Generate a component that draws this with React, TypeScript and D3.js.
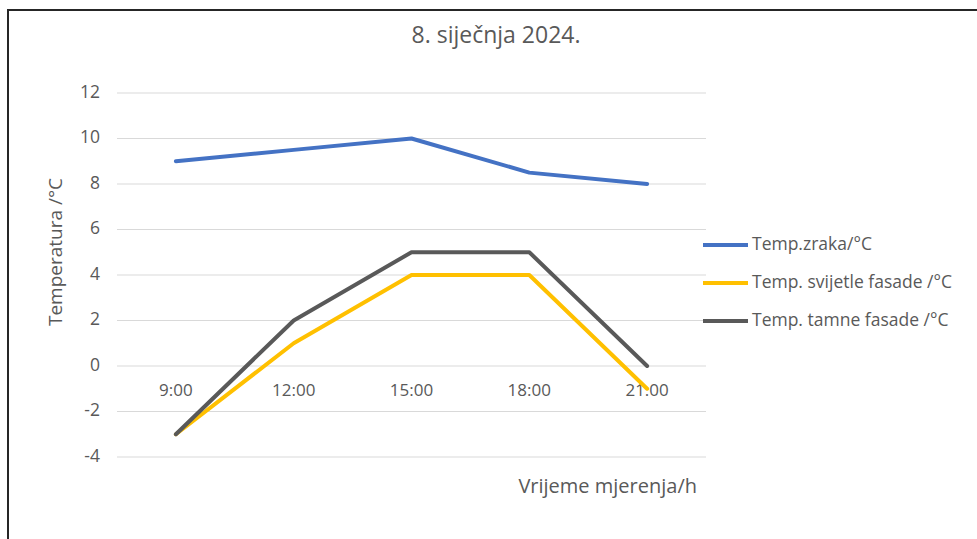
import React from 'react';
import * as d3 from 'd3';

const categories = ['9:00', '12:00', '15:00', '18:00', '21:00'];
const zrak = [9, 9.5, 10, 8.5, 8];
const svijetla = [-3, 1, 4, 4, -1];
const tamna = [-3, 2, 5, 5, 0];
const yTicks = [-4, -2, 0, 2, 4, 6, 8, 10, 12];

const seriesNames = ['Temp.zraka/°C', 'Temp. svijetle fasade /°C', 'Temp. tamne fasade /°C'];
const seriesColors = ['#4472C4', '#FFC000', '#595959'];

const textColor = '#595959';
const font = "'Open Sans', sans-serif";

function App() {
    const width = 977;
    const height = 539;

    const x = d3.scaleBand<string>().domain(categories).range([117, 706]);
    const y = d3.scaleLinear().domain([-4, 12]).range([457, 93]);

    const line = d3.line<number>()
        .x((d, i) => (x(categories[i]) as number) + x.bandwidth() / 2)
        .y((d) => y(d));

    const allSeries = [zrak, svijetla, tamna];

    return (
        <svg width={width} height={height} style={{ position: 'absolute', left: 0, top: 0, display: 'block' }}>
            <rect x={0} y={0} width={width} height={height} fill="#fff" />
            {/* okvir grafikona */}
            <rect x={8} y={10} width={1200} height={800} fill="none" stroke="#262626" strokeWidth={2} />

            <text x={496} y={37} textAnchor="middle" dominantBaseline="middle"
                style={{ fontFamily: font, fontSize: '23px', fill: textColor }}>
                8. siječnja 2024.
            </text>

            {/* mreža */}
            {yTicks.map((t) => (
                <g key={t}>
                    <line x1={117} x2={706} y1={y(t)} y2={y(t)} stroke="#D9D9D9" strokeWidth={1} />
                    <text x={100} y={y(t)} textAnchor="end" dominantBaseline="middle"
                        style={{ fontFamily: font, fontSize: '17.5px', fill: textColor }}>
                        {t}
                    </text>
                </g>
            ))}

            {/* oznake kategorija */}
            {categories.map((c) => (
                <text key={c} x={(x(c) as number) + x.bandwidth() / 2} y={391} textAnchor="middle" dominantBaseline="middle"
                    style={{ fontFamily: font, fontSize: '17px', fill: textColor }}>
                    {c}
                </text>
            ))}

            {allSeries.map((s, i) => (
                <path key={i} d={line(s) as string} fill="none" stroke={seriesColors[i]} strokeWidth={4}
                    strokeLinejoin="round" strokeLinecap="round" />
            ))}

            <text transform="translate(57, 252) rotate(-90)" textAnchor="middle" dominantBaseline="middle"
                style={{ fontFamily: font, fontSize: '19px', fill: textColor }}>
                Temperatura /°C
            </text>

            <text x={697} y={488} textAnchor="end" dominantBaseline="middle"
                style={{ fontFamily: font, fontSize: '20px', fill: textColor }}>
                Vrijeme mjerenja/h
            </text>

            {/* legenda */}
            {seriesNames.map((n, i) => (
                <g key={n} transform={`translate(703, ${245 + i * 38})`}>
                    <line x1={0} x2={45} y1={0} y2={0} stroke={seriesColors[i]} strokeWidth={4} />
                    <text x={49} y={0} dominantBaseline="middle"
                        style={{ fontFamily: font, fontSize: '17.5px', fill: textColor }}>
                        {n}
                    </text>
                </g>
            ))}
        </svg>
    );
}

export default App;
